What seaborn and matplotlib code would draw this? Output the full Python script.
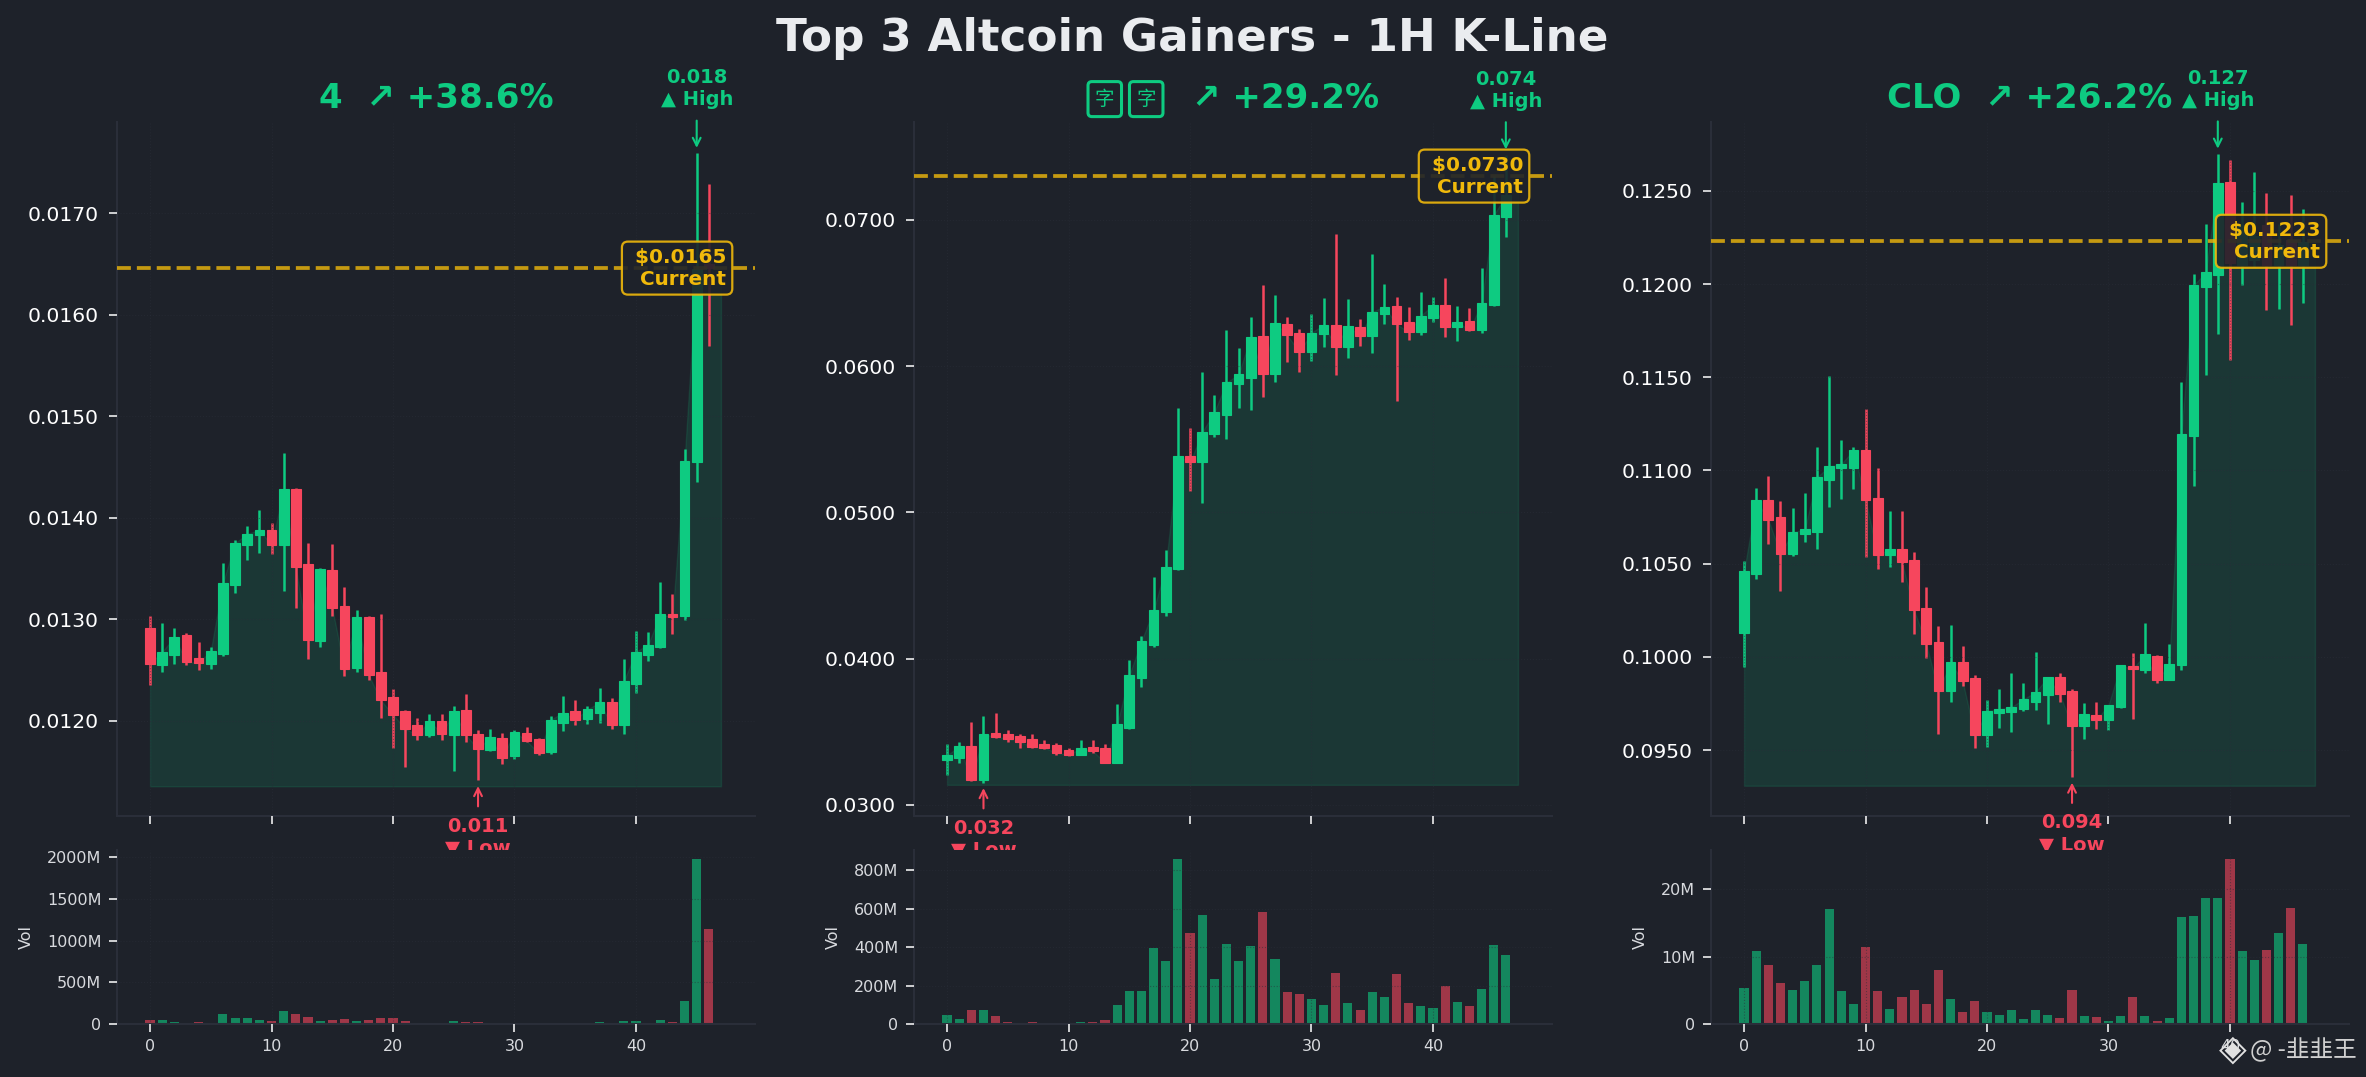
import matplotlib
matplotlib.use("Agg")
import matplotlib.pyplot as plt
import numpy as np
import seaborn as sns

# Coin 1
c1_name = "4"
c1_change = "+38.6%"
c1_open = [0.01291, 0.01255, 0.01265, 0.01284, 0.01262, 0.01256, 0.01266, 0.01334, 0.01373, 0.01383,
           0.01388, 0.01373, 0.01428, 0.01354, 0.01278, 0.01348, 0.01313, 0.01252, 0.01302, 0.01248,
           0.01223, 0.01209, 0.01196, 0.01186, 0.01200, 0.01186, 0.01210, 0.01187, 0.01171, 0.01183,
           0.01165, 0.01188, 0.01182, 0.01169, 0.01198, 0.01209, 0.01202, 0.01208, 0.01218, 0.01196,
           0.01236, 0.01265, 0.01273, 0.01305, 0.01303, 0.01455, 0.01650]
c1_high = [0.01303, 0.01296, 0.01291, 0.01286, 0.01277, 0.01273, 0.01355, 0.01378, 0.01392, 0.01408,
           0.01395, 0.01464, 0.01429, 0.01375, 0.01350, 0.01374, 0.01332, 0.01309, 0.01303, 0.01305,
           0.01231, 0.01210, 0.01203, 0.01207, 0.01207, 0.01214, 0.01226, 0.01191, 0.01192, 0.01188,
           0.01191, 0.01194, 0.01183, 0.01205, 0.01224, 0.01220, 0.01214, 0.01232, 0.01222, 0.01261,
           0.01288, 0.01287, 0.01337, 0.01325, 0.01468, 0.01759, 0.01729]
c1_low = [0.01235, 0.01248, 0.01256, 0.01255, 0.01250, 0.01251, 0.01264, 0.01326, 0.01358, 0.01365,
          0.01364, 0.01328, 0.01311, 0.01261, 0.01273, 0.01303, 0.01244, 0.01248, 0.01240, 0.01203,
          0.01173, 0.01154, 0.01181, 0.01184, 0.01181, 0.01150, 0.01179, 0.01141, 0.01170, 0.01157,
          0.01162, 0.01179, 0.01166, 0.01167, 0.01190, 0.01196, 0.01197, 0.01198, 0.01192, 0.01187,
          0.01227, 0.01259, 0.01272, 0.01285, 0.01299, 0.01435, 0.01569]
c1_close = [0.01256, 0.01268, 0.01282, 0.01258, 0.01257, 0.01269, 0.01336, 0.01375, 0.01384, 0.01388,
            0.01373, 0.01428, 0.01351, 0.01279, 0.01349, 0.01311, 0.01251, 0.01302, 0.01245, 0.01220,
            0.01206, 0.01192, 0.01186, 0.01200, 0.01187, 0.01209, 0.01186, 0.01172, 0.01184, 0.01163,
            0.01189, 0.01180, 0.01168, 0.01201, 0.01208, 0.01201, 0.01211, 0.01218, 0.01196, 0.01239,
            0.01268, 0.01275, 0.01305, 0.01302, 0.01456, 0.01645, 0.01646]
c1_current = 0.01646
c1_vol = [48, 48, 24, 5, 24, 5, 120, 72, 72, 48, 36, 156, 120, 84, 36, 48, 60, 36, 48, 72, 72, 36, 6, 6,
          6, 36, 24, 24, 4, 4, 4, 4, 4, 4, 4, 4, 4, 24, 5, 36, 36, 5, 48, 24, 275, 1976, 1138]
c1_vol_ticks = [0, 500, 1000, 1500, 2000]
c1_price_ticks = [0.012, 0.013, 0.014, 0.015, 0.016, 0.017]

# Coin 2
c2_change = "+29.2%"
c2_open = [0.03308, 0.03322, 0.03400, 0.03171, 0.03489, 0.03482, 0.03468, 0.03447, 0.03413, 0.03406,
           0.03374, 0.03342, 0.03393, 0.03386, 0.03288, 0.03527, 0.03870, 0.04096, 0.04315, 0.04612,
           0.05385, 0.05342, 0.05533, 0.05669, 0.05875, 0.05920, 0.06208, 0.05948, 0.06290, 0.06227,
           0.06097, 0.06220, 0.06283, 0.06131, 0.06270, 0.06206, 0.06356, 0.06413, 0.06304, 0.06233,
           0.06329, 0.06419, 0.06267, 0.06311, 0.06247, 0.06417, 0.07018]
c2_high = [0.03413, 0.03427, 0.03564, 0.03605, 0.03626, 0.03509, 0.03482, 0.03482, 0.03441, 0.03420,
           0.03386, 0.03441, 0.03441, 0.03413, 0.03687, 0.03989, 0.04153, 0.04557, 0.04742, 0.05712,
           0.05576, 0.05957, 0.05803, 0.06245, 0.06127, 0.06338, 0.06555, 0.06487, 0.06338, 0.06256,
           0.06358, 0.06467, 0.06902, 0.06460, 0.06324, 0.06766, 0.06562, 0.06474, 0.06406, 0.06508,
           0.06474, 0.06603, 0.06413, 0.06399, 0.06671, 0.07300, 0.07444]
c2_low = [0.03205, 0.03288, 0.03160, 0.03152, 0.03454, 0.03431, 0.03390, 0.03390, 0.03384, 0.03342,
          0.03336, 0.03341, 0.03356, 0.03287, 0.03287, 0.03521, 0.03808, 0.04082, 0.04288, 0.04605,
          0.05144, 0.05064, 0.05512, 0.05499, 0.05716, 0.05703, 0.05791, 0.05893, 0.06029, 0.05961,
          0.06036, 0.06131, 0.05941, 0.06057, 0.06138, 0.06091, 0.06288, 0.05764, 0.06179, 0.06213,
          0.06301, 0.06199, 0.06172, 0.06240, 0.06227, 0.06410, 0.06880]
c2_close = [0.03338, 0.03400, 0.03171, 0.03482, 0.03466, 0.03452, 0.03431, 0.03397, 0.03390, 0.03356,
            0.03342, 0.03386, 0.03368, 0.03288, 0.03550, 0.03886, 0.04119, 0.04331, 0.04625, 0.05385,
            0.05342, 0.05548, 0.05685, 0.05889, 0.05943, 0.06202, 0.05948, 0.06297, 0.06213, 0.06097,
            0.06229, 0.06283, 0.06134, 0.06277, 0.06206, 0.06372, 0.06406, 0.06288, 0.06233, 0.06345,
            0.06419, 0.06270, 0.06304, 0.06247, 0.06433, 0.07032, 0.07170]
c2_current = 0.07300
c2_vol = [47, 26, 73, 73, 42, 10, 3, 10, 3, 3, 3, 10, 10, 21, 99, 171, 171, 395, 327, 857, 473, 566, 234,
          416, 327, 405, 582, 338, 166, 156, 130, 99, 265, 109, 73, 166, 140, 260, 109, 94, 83, 197, 114,
          94, 182, 410, 358]
c2_vol_ticks = [0, 200, 400, 600, 800]
c2_price_ticks = [0.03, 0.04, 0.05, 0.06, 0.07]

# Coin 3
c3_name = "CLO"
c3_change = "+26.2%"
c3_open = [0.10130, 0.10447, 0.10839, 0.10748, 0.10554, 0.10657, 0.10672, 0.10948, 0.11011, 0.11011,
           0.11109, 0.10850, 0.10548, 0.10577, 0.10518, 0.10261, 0.10079, 0.09816, 0.09971, 0.09886,
           0.09580, 0.09698, 0.09704, 0.09720, 0.09757, 0.09795, 0.09891, 0.09816, 0.09629, 0.09687,
           0.09661, 0.09729, 0.09950, 0.09927, 0.10004, 0.09875, 0.09954, 0.11186, 0.11987, 0.12048,
           0.12547, 0.12102, 0.12129, 0.12317, 0.12102, 0.12237, 0.12102]
c3_high = [0.10514, 0.10905, 0.10970, 0.10834, 0.10797, 0.10877, 0.11127, 0.11506, 0.11163, 0.11127,
           0.11329, 0.11016, 0.10782, 0.10782, 0.10561, 0.10373, 0.10164, 0.10170, 0.10057, 0.09902,
           0.09768, 0.09827, 0.09912, 0.09859, 0.10025, 0.09892, 0.09912, 0.09827, 0.09752, 0.09757,
           0.09742, 0.09956, 0.10020, 0.10180, 0.10009, 0.10068, 0.11473, 0.12057, 0.12321, 0.12697,
           0.12665, 0.12441, 0.12602, 0.12489, 0.12320, 0.12478, 0.12403]
c3_low = [0.09948, 0.10420, 0.10607, 0.10355, 0.10543, 0.10618, 0.10580, 0.10805, 0.10848, 0.10902,
          0.10538, 0.10470, 0.10484, 0.10404, 0.10120, 0.09996, 0.09584, 0.09757, 0.09841, 0.09509,
          0.09514, 0.09616, 0.09595, 0.09709, 0.09714, 0.09637, 0.09757, 0.09355, 0.09557, 0.09611,
          0.09605, 0.09723, 0.09666, 0.09916, 0.09862, 0.09874, 0.09932, 0.10916, 0.11511, 0.11733,
          0.11593, 0.11995, 0.12090, 0.11860, 0.11866, 0.11780, 0.11898]
c3_close = [0.10459, 0.10839, 0.10736, 0.10554, 0.10668, 0.10684, 0.10963, 0.11022, 0.11034, 0.11109,
            0.10843, 0.10548, 0.10577, 0.10507, 0.10250, 0.10068, 0.09816, 0.09971, 0.09868, 0.09580,
            0.09709, 0.09720, 0.09730, 0.09773, 0.09811, 0.09891, 0.09798, 0.09629, 0.09693, 0.09661,
            0.09741, 0.09955, 0.09934, 0.10014, 0.09875, 0.09961, 0.11198, 0.11993, 0.12063, 0.12541,
            0.12113, 0.12317, 0.12260, 0.12102, 0.12210, 0.12102, 0.12226]
c3_current = 0.12230
c3_vol = [5.3, 10.8, 8.7, 6.1, 5.0, 6.4, 8.7, 17.0, 4.9, 3.0, 11.4, 4.9, 2.2, 4.0, 5.0, 3.0, 8.0, 3.7, 1.8,
          3.4, 1.8, 1.3, 2.1, 0.7, 2.1, 1.3, 0.9, 5.0, 1.2, 1.0, 0.4, 1.2, 4.0, 1.2, 0.4, 0.9, 15.9, 16.0,
          18.7, 18.7, 24.4, 10.8, 9.5, 11.0, 13.5, 17.2, 11.9]
c3_vol_ticks = [0, 10, 20]
c3_price_ticks = [0.095, 0.1, 0.105, 0.11, 0.115, 0.12, 0.125]

x_ticks = [0, 10, 20, 30, 40]

BG = "#1e222a"
GREEN = "#0ecb81"
RED = "#f6465d"
GOLD = "#f0b90b"
SPINE = "#2a2e39"
TEXT = "#eaecef"
W, H = 2366, 1077

sns.set_theme(style="dark", rc={"figure.facecolor": BG, "axes.facecolor": BG, "savefig.facecolor": BG})
plt.rcParams["font.family"] = ["DejaVu Sans", "Noto Sans CJK SC"]


def px_axes(fig, left, top, right, bottom):
    return fig.add_axes([left / W, 1 - bottom / H, (right - left) / W, (bottom - top) / H])


def style_ax(ax, tick_size, y_pad):
    ax.set_facecolor(BG)
    for side in ["top", "right"]:
        ax.spines[side].set_visible(False)
    for side in ["left", "bottom"]:
        ax.spines[side].set_color(SPINE)
        ax.spines[side].set_linewidth(1.5)
    ax.tick_params(colors="white", length=5.8, width=1.1, labelsize=tick_size, left=True, bottom=True)
    ax.tick_params(axis="y", pad=y_pad)
    ax.tick_params(axis="x", pad=5)
    ax.grid(True, linestyle=":", color=SPINE, linewidth=0.8, alpha=0.5)
    ax.set_axisbelow(False)


def draw_coin(fig, left, open_, high, low, close, current, vol, price_ticks, vol_ticks, ylim, vol_top):
    right = left + 638
    xlim = (-2.72, 49.8)
    ax = px_axes(fig, left, 122, right, 816)
    ax_vol = px_axes(fig, left, 850, right, 1024)

    idx = np.arange(len(close))
    up = np.array(close) >= np.array(open_)
    colors = [GREEN if u else RED for u in up]

    # area under closes, goes one step past the last candle
    base = min(low) * 0.995
    ax.fill_between(np.arange(len(close) + 1), close + [current], base, color=GREEN, alpha=0.13, zorder=1)

    ax.vlines(idx, low, high, colors=colors, linewidth=1.8, zorder=2)
    ax.bar(idx, np.abs(np.array(close) - np.array(open_)), bottom=np.minimum(open_, close), width=0.8,
           color=colors, edgecolor=colors, linewidth=0.8, zorder=3)

    ax.axhline(current, color=GOLD, linestyle="--", linewidth=2.7, alpha=0.8, zorder=4)
    ax.text(0.955, current, f" ${current:.4f}\nCurrent", transform=ax.get_yaxis_transform(),
            ha="right", va="center", multialignment="right", color=GOLD, fontsize=14.4, fontweight="bold",
            zorder=6, bbox=dict(boxstyle="round,pad=0.3", facecolor=BG, edgecolor=GOLD, linewidth=1.6, alpha=0.9))

    i_high = int(np.argmax(high))
    ax.annotate(f"{max(high):.3f}\n▲ High", xy=(i_high, max(high)), xytext=(0, 32), textcoords="offset points",
                ha="center", va="bottom", color=GREEN, fontsize=14, fontweight="bold", annotation_clip=False,
                arrowprops=dict(arrowstyle="->", color=GREEN, lw=1.5, shrinkA=6, shrinkB=4), zorder=7)
    i_low = int(np.argmin(low))
    ax.annotate(f"{min(low):.3f}\n▼ Low", xy=(i_low, min(low)), xytext=(0, -26), textcoords="offset points",
                ha="center", va="top", color=RED, fontsize=14, fontweight="bold", annotation_clip=False,
                arrowprops=dict(arrowstyle="->", color=RED, lw=1.5, shrinkA=5, shrinkB=4), zorder=7)

    ax.set_xlim(xlim)
    ax.set_ylim(ylim)
    ax.set_xticks(x_ticks)
    ax.set_xticklabels([])
    ax.set_yticks(price_ticks)
    ax.set_yticklabels([f"{p:.4f}" for p in price_ticks])
    style_ax(ax, 14.6, 7.5)

    sns.barplot(x=idx, y=vol, hue=["up" if u else "down" for u in up], palette={"up": GREEN, "down": RED},
                native_scale=True, dodge=False, legend=False, width=0.75, alpha=0.6, saturation=1,
                linewidth=0, ax=ax_vol)
    ax_vol.set_xlim(xlim)
    ax_vol.set_ylim(0, vol_top)
    ax_vol.set_xticks(x_ticks)
    ax_vol.set_xticklabels([str(t) for t in x_ticks])
    ax_vol.set_yticks(vol_ticks)
    ax_vol.set_yticklabels([f"{t}M" if t else "0" for t in vol_ticks])
    style_ax(ax_vol, 11.5, 5.5)
    ax_vol.tick_params(labelcolor="#d8dade")
    ax_vol.set_ylabel("Vol", color="#d8dade", fontsize=11.5, labelpad=9.5)
    return ax


fig = plt.figure(figsize=(W / 100, H / 100), dpi=100, facecolor=BG)

ax1 = draw_coin(fig, 117, c1_open, c1_high, c1_low, c1_close, c1_current, c1_vol, c1_price_ticks, c1_vol_ticks,
                (0.01106, 0.01790), 2084)
ax2 = draw_coin(fig, 914, c2_open, c2_high, c2_low, c2_close, c2_current, c2_vol, c2_price_ticks, c2_vol_ticks,
                (0.02923, 0.0767), 904)
ax3 = draw_coin(fig, 1711, c3_open, c3_high, c3_low, c3_close, c3_current, c3_vol, c3_price_ticks, c3_vol_ticks,
                (0.09146, 0.1287), 25.8)

title_kw = dict(color=GREEN, fontsize=24.5, fontweight="bold", pad=10)
ax1.set_title(f"{c1_name}  ↗ {c1_change}", **title_kw)
ax3.set_title(f"{c3_name}  ↗ {c3_change}", **title_kw)

# the ticker of coin 2 shows as two boxed glyphs in the picture
ax2.text(0.729, 1.0 + 14 / 694, f"↗ {c2_change}", transform=ax2.transAxes, ha="right", va="baseline",
         color=GREEN, fontsize=24.5, fontweight="bold")
for xf in [0.299, 0.364]:
    ax2.text(xf, 1.033, "字", transform=ax2.transAxes, ha="center", va="center", color=GREEN, fontsize=14,
             family=["Noto Sans CJK SC", "DejaVu Sans"], fontweight="light",
             bbox=dict(boxstyle="round,pad=0.36,rounding_size=0.2", facecolor="none", edgecolor=GREEN, linewidth=2.2))

fig.text(1192 / W, 1 - 39 / H, "Top 3 Altcoin Gainers - 1H K-Line", ha="center", va="center",
         color=TEXT, fontsize=32.6, fontweight="bold")

# watermark
fig.text(2233 / W, 1 - 1050 / H, "◈", ha="center", va="center", color="#e0e0e0", fontsize=26)
fig.text(2357 / W, 1 - 1050 / H, "@ -韭韭王", ha="right", va="center", color="#d0d0d0", fontsize=17,
         family=["Noto Sans CJK SC", "DejaVu Sans"])

fig.savefig("out.png", dpi=100, facecolor=BG)
